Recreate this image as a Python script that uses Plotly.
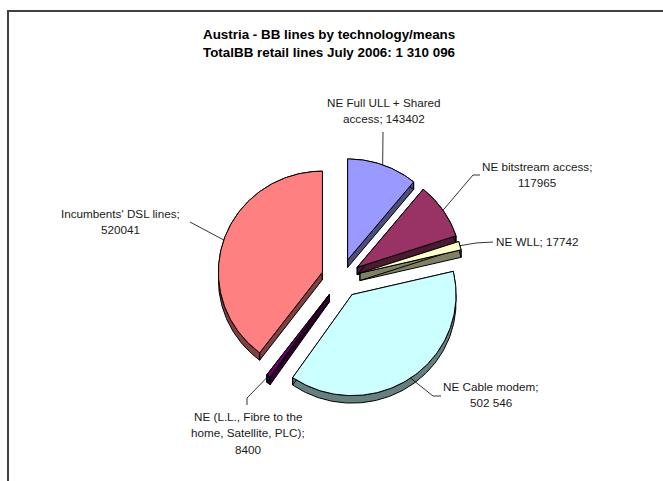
import numpy as np
import plotly.graph_objects as go

# Data
categories = ["NE Full ULL + Shared access", "NE bitstream access", "NE WLL",
              "NE Cable modem", "NE (L.L., Fibre to the home, Satellite, PLC)",
              "Incumbents' DSL lines"]
values = [143402, 117965, 17742, 502546, 8400, 520041]
label_lines = [["NE Full ULL + Shared", "access; 143402"], ["NE bitstream access;", "117965"],
               ["NE WLL; 17742"], ["NE Cable modem;", "502 546"],
               ["NE (L.L., Fibre to the", "home, Satellite, PLC);", "8400"],
               ["Incumbents' DSL lines;", "520041"]]
top_colors = ["#9999FF", "#993366", "#FFFFCC", "#CCFFFF", "#660066", "#FF8080"]
side_colors = ["#4D4D80", "#4D1A33", "#808066", "#668080", "#330033", "#804040"]
title_lines = ["Austria - BB lines by technology/means",
               "TotalBB retail lines July 2006: 1 310 096"]

# Layout geometry (pixel-like axis units)
CX, CY, RX, RY, PULL, DEPTH = 341.0, 278.4, 104.0, 101.0, 19.6, 7.5
label_pos = [(384, 102), (537, 166), (537, 241), (491, 386), (248, 416), (120, 213)]
label_step = 16.7
leader_via = [[(383, 132)], [(473, 175), (480, 175)], [(476, 243), (493, 242)],
              [(433, 396), (441, 396)], [(247, 398), (247, 405)], [(190, 222)]]

W, H = 663, 481
fig = go.Figure()


def pt(ax, ay, deg):
    a = np.radians(deg)
    return ax + RX * np.sin(a), ay - RY * np.cos(a)


def poly(xs, ys, fill, name):
    fig.add_trace(go.Scatter(x=xs, y=ys, mode="lines", fill="toself", fillcolor=fill,
                             line=dict(color="black", width=1), hoverinfo="skip",
                             showlegend=False, name=name))


total = sum(values)
start = 0.0
for name, v, top, side, via in zip(categories, values, top_colors, side_colors, leader_via):
    sweep = 360.0 * v / total
    end = start + sweep
    mid = (start + end) / 2
    ax = CX + PULL * np.sin(np.radians(mid))
    ay = CY - PULL * np.cos(np.radians(mid))
    th = np.linspace(start, end, max(6, int(sweep)))
    ex, ey = pt(ax, ay, th)
    # side faces: arc band + two radial walls, painted below the top face
    sx = list(ex) + list(ex[::-1]) + [ex[0], None, ax, ex[0], ex[0], ax, ax, None,
                                      ax, ex[-1], ex[-1], ax, ax]
    sy = list(ey) + list(ey[::-1] + DEPTH) + [ey[0], None, ay, ey[0], ey[0] + DEPTH, ay + DEPTH, ay, None,
                                              ay, ey[-1], ey[-1] + DEPTH, ay + DEPTH, ay]
    poly(sx, sy, side, name + " side")
    poly([ax] + list(ex) + [ax], [ay] + list(ey) + [ay], top, name)
    # leader line from slice edge at mid angle
    lx, ly = pt(ax, ay, mid)
    fig.add_trace(go.Scatter(x=[lx] + [p[0] for p in via], y=[ly] + [p[1] for p in via],
                             mode="lines", line=dict(color="black", width=0.8),
                             hoverinfo="skip", showlegend=False))
    start = end

annotations = []
for (x, y), lines in zip(label_pos, label_lines):
    for i, line in enumerate(lines):
        annotations.append(dict(x=x, y=y + i * label_step, text=line, showarrow=False,
                                xanchor="center", yanchor="middle",
                                font=dict(family="Liberation Sans", size=11.7, color="#1a1a1a")))
for i, line in enumerate(title_lines):
    annotations.append(dict(x=329, y=34 + i * 18, text="<b>" + line + "</b>", showarrow=False,
                            xanchor="center", yanchor="middle",
                            font=dict(family="Liberation Sans", size=13.4, color="black")))

frame = dict(type="line", line=dict(color="#404040", width=2), xref="x", yref="y")
fig.update_layout(
    width=W, height=H, margin=dict(l=0, r=0, t=0, b=0),
    paper_bgcolor="white", plot_bgcolor="white", showlegend=False,
    xaxis=dict(range=[0, W], visible=False, fixedrange=True),
    yaxis=dict(range=[H, 0], visible=False, fixedrange=True),
    annotations=annotations,
    shapes=[dict(frame, x0=8, x1=8, y0=10, y1=H), dict(frame, x0=7, x1=W, y0=11, y1=11)],
)
fig.write_html("out.html", config={"displayModeBar": False},
               post_script="document.body.style.margin='0';document.body.style.overflow='hidden';")
